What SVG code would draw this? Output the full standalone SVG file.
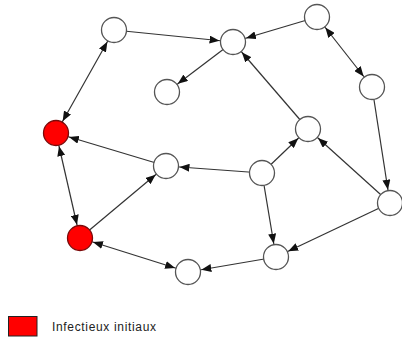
<svg xmlns="http://www.w3.org/2000/svg" width="402" height="339" viewBox="0 0 402 339">
<style>
.e{stroke:#333;stroke-width:1.2;fill:none;marker-end:url(#ah)}
.b{marker-start:url(#ah)}
.n{fill:#fff;stroke:#555;stroke-width:1.3}
.r{fill:#f00;stroke:#7a0a0a;stroke-width:1.3}
.t{font-family:"Liberation Sans",Arial,sans-serif;font-size:12px;fill:#222}
</style>
<defs>
<marker id="ah" viewBox="0 0 10 8" markerUnits="userSpaceOnUse" markerWidth="10" markerHeight="8" refX="23.5" refY="4" orient="auto-start-reverse">
<path d="M0,0 L10,4 L0,8 Z" fill="#111"/>
</marker>
</defs>
<rect width="402" height="339" fill="#fff"/>
<g id="connectors">
<line class="e" x1="114" y1="30" x2="233" y2="42"/>
<line class="e" x1="317" y1="17" x2="233" y2="42"/>
<line class="e" x1="233" y1="42" x2="167" y2="92"/>
<line class="e b" x1="317" y1="17" x2="372" y2="87"/>
<line class="e b" x1="114" y1="30" x2="56" y2="133"/>
<line class="e" x1="308" y1="129" x2="233" y2="42"/>
<line class="e" x1="372" y1="87" x2="390" y2="203"/>
<line class="e" x1="390" y1="203" x2="308" y2="129"/>
<line class="e" x1="262" y1="173" x2="308" y2="129"/>
<line class="e" x1="262" y1="173" x2="166" y2="166"/>
<line class="e" x1="166" y1="166" x2="56" y2="133"/>
<line class="e b" x1="56" y1="133" x2="80" y2="238"/>
<line class="e" x1="80" y1="238" x2="166" y2="166"/>
<line class="e b" x1="80" y1="238" x2="188" y2="272"/>
<line class="e" x1="262" y1="173" x2="276" y2="257"/>
<line class="e" x1="390" y1="203" x2="276" y2="257"/>
<line class="e" x1="276" y1="257" x2="188" y2="272"/>
</g>
<g id="n1"><circle class="n" cx="114" cy="30" r="12.5"/></g>
<g id="n2"><circle class="n" cx="233" cy="42" r="12.5"/></g>
<g id="n3"><circle class="n" cx="317" cy="17" r="12.5"/></g>
<g id="n4"><circle class="n" cx="167" cy="92" r="12.5"/></g>
<g id="n5"><circle class="n" cx="372" cy="87" r="12.5"/></g>
<g id="n6"><circle class="r" cx="56" cy="133" r="12.5"/></g>
<g id="n7"><circle class="n" cx="308" cy="129" r="12.5"/></g>
<g id="n8"><circle class="n" cx="166" cy="166" r="12.5"/></g>
<g id="n9"><circle class="n" cx="262" cy="173" r="12.5"/></g>
<g id="n10"><circle class="n" cx="390" cy="203" r="12.5"/></g>
<g id="n11"><circle class="r" cx="80" cy="238" r="12.5"/></g>
<g id="n12"><circle class="n" cx="276" cy="257" r="12.5"/></g>
<g id="n13"><circle class="n" cx="188" cy="272" r="12.5"/></g>
<g id="legend">
<rect x="8.5" y="316.5" width="28.5" height="19.5" fill="#f00" stroke="#222" stroke-width="1"/>
<text class="t" x="52" y="331" textLength="104">Infectieux initiaux</text>
</g>
</svg>
